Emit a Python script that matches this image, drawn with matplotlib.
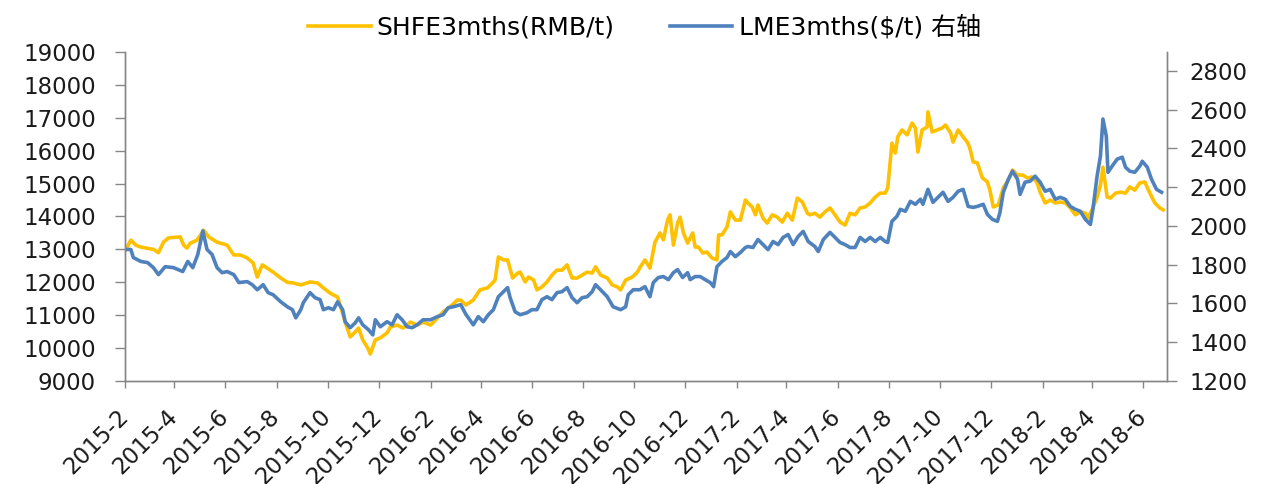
import matplotlib
matplotlib.use("Agg")
import matplotlib.pyplot as plt
import pandas as pd

plt.rcParams['font.family'] = ['DejaVu Sans', 'Noto Sans CJK SC']

start = pd.Timestamp('2015-02-01')

# SHFE 3 months, RMB/t (left axis) -- day offset from 2015-02-01, value
shfe_day = [1, 7, 13, 19, 34, 40, 46, 52, 66, 70, 74, 78, 86, 94, 100, 110, 122, 130, 138, 146,
            153, 158, 164, 170, 177, 186, 194, 201, 210, 221, 230, 237, 245, 254, 257, 263, 269, 275, 279, 284,
            290, 293, 299, 305, 313, 317, 325, 332, 341, 349, 356, 365, 373, 380, 388, 397, 401, 407, 416, 424,
            433, 439, 442, 446, 452, 457, 463, 469, 472, 478, 482, 488, 492, 498, 504, 510, 516, 522, 528, 534,
            540, 546, 552, 558, 562, 568, 576, 582, 588, 592, 598, 606, 612, 615, 621, 627, 633, 639, 643, 648,
            651, 655, 660, 663, 667, 672, 678, 681, 685, 690, 695, 701, 707, 709, 713, 719, 723, 729, 735, 741,
            744, 749, 753, 756, 762, 767, 773, 779, 785, 791, 797, 803, 809, 815, 818, 824, 830, 836, 842, 848,
            854, 860, 866, 872, 878, 884, 890, 896, 902, 908, 911, 916, 920, 923, 928, 934, 940, 944, 947, 952,
            958, 959, 964, 970, 976, 980, 986, 989, 995, 1001, 1006, 1009, 1013, 1018, 1024, 1030, 1033, 1037, 1043, 1049,
            1055, 1060, 1066, 1072, 1078, 1083, 1089, 1093, 1099, 1105, 1111, 1117, 1123, 1129, 1135, 1141, 1147, 1150, 1155, 1161,
            1165, 1168, 1173, 1177, 1183, 1189, 1195, 1200, 1206, 1212, 1218, 1224, 1230, 1236, 1240]
shfe_val = [13000, 13280, 13130, 13070, 13000, 12900, 13220, 13350, 13380, 13130, 13040, 13190, 13280, 13580, 13380, 13220, 13130, 12830, 12830, 12740,
            12590, 12160, 12530, 12430, 12310, 12130, 12000, 11980, 11920, 12010, 11980, 11830, 11670, 11550, 11310, 10790, 10340, 10490, 10610, 10250,
            10000, 9820, 10250, 10310, 10460, 10640, 10700, 10610, 10790, 10700, 10790, 10700, 10910, 11100, 11250, 11460, 11460, 11310, 11460, 11770,
            11830, 11980, 12070, 12770, 12680, 12680, 12130, 12280, 12310, 12010, 12160, 12070, 11770, 11860, 12010, 12220, 12370, 12370, 12530, 12130,
            12130, 12220, 12310, 12280, 12470, 12220, 12130, 11920, 11860, 11770, 12070, 12160, 12310, 12450, 12680, 12430, 13220, 13500, 13290, 13890,
            14050, 13130, 13800, 13980, 13500, 13190, 13500, 13070, 13070, 12890, 12920, 12740, 12680, 13440, 13440, 13680, 14140, 13890, 13890, 14500,
            14410, 14290, 14050, 14350, 13950, 13800, 14050, 13980, 13830, 14100, 13890, 14560, 14440, 14100, 14050, 14100, 13980, 14140, 14260, 14050,
            13830, 13740, 14100, 14050, 14260, 14290, 14410, 14590, 14710, 14710, 14870, 16230, 15930, 16420, 16630, 16480, 16840, 16690, 15960, 16630,
            16720, 17180, 16570, 16630, 16690, 16780, 16540, 16260, 16630, 16420, 16260, 16080, 15660, 15630, 15170, 15050, 14800, 14290, 14350, 14870,
            15110, 15410, 15260, 15260, 15170, 15200, 15050, 14740, 14410, 14500, 14410, 14440, 14410, 14260, 14050, 14140, 14100, 13950, 14200, 14590,
            14960, 15500, 14590, 14560, 14710, 14740, 14710, 14900, 14800, 15020, 15050, 14710, 14410, 14260, 14200]

# LME 3 months, $/t (right axis)
lme_day = [1, 7, 10, 19, 27, 34, 40, 48, 58, 69, 75, 81, 87, 93, 98, 104, 110, 116, 122, 130,
           136, 146, 152, 158, 165, 171, 177, 186, 194, 200, 204, 210, 213, 221, 227, 233, 237, 243, 249, 254,
           260, 263, 269, 275, 279, 284, 291, 296, 299, 305, 313, 319, 325, 331, 337, 343, 349, 356, 365, 373,
           380, 386, 392, 401, 407, 416, 422, 428, 434, 440, 446, 452, 457, 460, 466, 472, 480, 486, 492, 498,
           504, 510, 516, 522, 528, 534, 540, 546, 552, 558, 562, 568, 576, 583, 592, 598, 601, 607, 615, 621,
           627, 631, 637, 643, 649, 655, 660, 666, 672, 675, 681, 687, 693, 699, 703, 707, 713, 719, 723, 729,
           735, 741, 744, 750, 756, 762, 768, 774, 780, 786, 792, 798, 804, 810, 816, 824, 828, 834, 842, 848,
           854, 860, 866, 872, 878, 884, 890, 896, 902, 908, 911, 916, 922, 926, 932, 938, 944, 950, 953, 959,
           965, 971, 977, 983, 989, 995, 1001, 1007, 1013, 1018, 1025, 1030, 1036, 1042, 1045, 1049, 1055, 1060, 1066, 1069,
           1075, 1081, 1087, 1093, 1099, 1105, 1111, 1117, 1123, 1129, 1135, 1141, 1147, 1153, 1156, 1161, 1165, 1168, 1172, 1174,
           1179, 1185, 1191, 1195, 1200, 1206, 1212, 1215, 1221, 1226, 1232, 1238]
lme_val = [1879, 1879, 1837, 1817, 1811, 1785, 1749, 1790, 1785, 1765, 1817, 1785, 1853, 1975, 1879, 1853, 1785, 1759, 1765, 1749,
           1708, 1713, 1697, 1671, 1697, 1656, 1645, 1609, 1583, 1568, 1526, 1568, 1604, 1656, 1630, 1620, 1568, 1578, 1568, 1609,
           1568, 1506, 1475, 1500, 1526, 1490, 1464, 1438, 1516, 1480, 1506, 1490, 1542, 1516, 1480, 1475, 1490, 1516, 1516, 1532,
           1542, 1578, 1583, 1594, 1545, 1490, 1532, 1506, 1542, 1568, 1635, 1661, 1682, 1630, 1557, 1542, 1552, 1568, 1568, 1620,
           1635, 1620, 1656, 1661, 1682, 1630, 1604, 1630, 1635, 1661, 1697, 1671, 1635, 1583, 1568, 1583, 1645, 1671, 1671, 1687,
           1635, 1708, 1734, 1739, 1723, 1759, 1775, 1734, 1759, 1723, 1739, 1739, 1723, 1708, 1687, 1790, 1817, 1837, 1868, 1842,
           1863, 1889, 1894, 1889, 1930, 1904, 1878, 1920, 1904, 1941, 1956, 1904, 1946, 1972, 1920, 1894, 1868, 1930, 1967, 1941,
           1915, 1904, 1889, 1889, 1941, 1920, 1941, 1920, 1941, 1920, 1915, 2024, 2050, 2086, 2076, 2127, 2112, 2138, 2112, 2189,
           2122, 2148, 2174, 2127, 2148, 2179, 2189, 2101, 2096, 2101, 2112, 2060, 2034, 2024, 2070, 2174, 2241, 2283, 2241, 2163,
           2226, 2231, 2257, 2226, 2179, 2189, 2138, 2148, 2138, 2101, 2086, 2076, 2034, 2008, 2086, 2257, 2360, 2552, 2464, 2277,
           2309, 2345, 2355, 2303, 2283, 2277, 2309, 2334, 2303, 2241, 2189, 2174]

shfe_dates = start + pd.to_timedelta(shfe_day, unit='D')
lme_dates = start + pd.to_timedelta(lme_day, unit='D')

left_ticks = list(range(9000, 19001, 1000))
right_ticks = list(range(1200, 2801, 200))
x_ticks = pd.date_range('2015-02-01', '2018-06-01', freq='2MS')
x_labels = [f"{d.year}-{d.month}" for d in x_ticks]

axis_col = '#868686'

fig = plt.figure(figsize=(12.66, 4.84), dpi=100)
ax = fig.add_axes([0.0987, 0.2128, 0.8231, 0.6798])
ax2 = ax.twinx()

l1, = ax.plot(shfe_dates, shfe_val, color='#FFC000', linewidth=2.6, label='SHFE3mths(RMB/t)')
l2, = ax2.plot(lme_dates, lme_val, color='#4F81BD', linewidth=2.6, label='LME3mths($/t) 右轴')

ax.set_xlim(start, start + pd.Timedelta(days=1244.5))
ax.set_ylim(9000, 19000)
ax2.set_ylim(1200, 2898)
ax.set_yticks(left_ticks)
ax2.set_yticks(right_ticks)
ax.set_xticks(x_ticks)
ax.set_xticklabels(x_labels, rotation=45, ha='right', va='center', rotation_mode='anchor')

for a in (ax, ax2):
    a.spines['top'].set_visible(False)
    for s in ('left', 'right', 'bottom'):
        a.spines[s].set_color(axis_col)
        a.spines[s].set_linewidth(1.0)
    a.tick_params(colors=axis_col, labelcolor='#1a1a1a', labelsize=16.5, length=7, width=1)
ax.tick_params(axis='y', length=7, pad=14)
ax.tick_params(axis='x', length=5, pad=18)
ax2.tick_params(axis='y', length=7, pad=9)

fig.legend(handles=[l1, l2], loc='upper center', bbox_to_anchor=(0.509, 1.015), ncol=2,
           frameon=False, fontsize=18, handlelength=2.5, columnspacing=2.2, handletextpad=0.25)

fig.savefig('out.png', dpi=100)
